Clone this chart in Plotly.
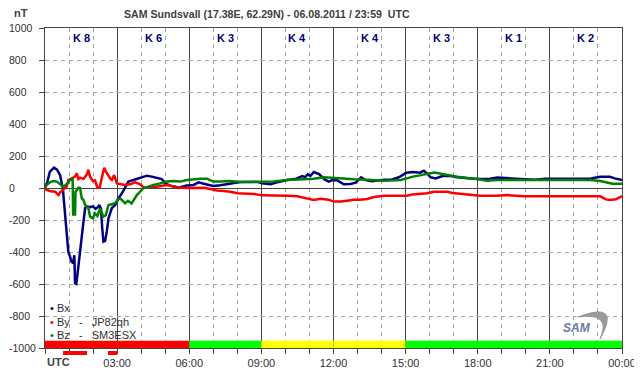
import plotly.graph_objects as go

# ---------------- data ----------------
t_bx = [0, 0.1, 0.2, 0.375, 0.5, 0.625, 0.74, 0.82, 0.9, 0.97,
        1.04, 1.1, 1.17, 1.22, 1.25, 1.3, 1.35, 1.39, 1.45, 1.53,
        1.6, 1.67, 1.75, 1.875, 2.0, 2.1, 2.2, 2.26, 2.33, 2.38,
        2.43, 2.5, 2.57, 2.64, 2.71, 2.78, 2.92, 3.05, 3.2, 3.33,
        3.47, 3.68, 3.96, 4.24, 4.44, 4.65, 4.86, 5.0, 5.2, 5.42,
        5.56, 5.7, 5.9, 6.18, 6.39, 6.6, 7.0, 7.29, 7.57, 7.85,
        8.13, 8.54, 8.82, 9.03, 9.38, 9.72, 10.07, 10.4, 10.7, 10.82,
        10.93, 11.04, 11.18, 11.4, 11.63, 11.8, 11.95, 12.15, 12.43, 12.7,
        12.92, 13.15, 13.33, 13.6, 13.85, 14.1, 14.4, 14.72, 15.03, 15.3,
        15.6, 15.76, 15.9, 16.04, 16.25, 16.53, 16.875, 17.15, 17.7, 18.1,
        18.5, 18.82, 19.4, 20.4, 20.8, 21.6, 22.7, 23.1, 23.5, 23.7,
        24.0]
bx = [0, 40, 100, 127, 115, 81, 0, -125, -250, -398,
      -429, -460, -470, -420, -596, -600, -540, -481, -410, -313,
      -210, -125, -115, -120, -115, -130, -120, -106, -130, -250,
      -335, -330, -273, -190, -160, -125, -106, -65, -33, 0,
      40, 50, 65, 77, 71, 65, 56, 29, 15, 8,
      0, 8, 15, 19, 35, 27, 12, 17, 23, 33,
      38, 38, 38, 29, 23, 38, 50, 56, 75, 68,
      85, 75, 100, 87, 54, 40, 50, 48, 23, 25,
      33, 67, 50, 42, 48, 52, 52, 67, 96, 100,
      96, 108, 90, 67, 60, 75, 75, 67, 60, 56,
      58, 65, 60, 52, 58, 60, 60, 70, 70, 60,
      50]

t_by = [0, 0.07, 0.2, 0.42, 0.56, 0.63, 0.76, 0.9, 0.97, 1.11,
        1.25, 1.32, 1.39, 1.46, 1.6, 1.74, 1.8, 1.875, 1.99, 2.08,
        2.18, 2.27, 2.36, 2.46, 2.53, 2.64, 2.71, 2.78, 2.875, 2.99,
        3.14, 3.33, 3.54, 3.75, 3.96, 4.1, 4.38, 4.65, 4.93, 5.14,
        5.35, 5.63, 6.03, 6.32, 6.6, 6.88, 7.15, 7.43, 7.71, 8.0,
        8.4, 8.68, 9.03, 9.5, 10.07, 10.5, 10.9, 11.18, 11.46, 11.8,
        12.01, 12.3, 12.57, 12.85, 13.1, 13.4, 13.68, 14.1, 14.65, 15.05,
        15.3, 15.6, 15.9, 16.18, 16.46, 16.74, 16.94, 17.3, 17.7, 18.1,
        18.8, 19.2, 19.9, 20.4, 21.0, 21.8, 22.7, 23.1, 23.33, 23.5,
        23.75, 24.0]
by = [0, -12, -19, -23, -44, -27, -10, 8, 50, 60,
      71, 92, 56, 65, 56, 85, 113, 71, 44, 48,
      2, 2, 71, 127, 104, 71, 60, 50, 81, 29,
      23, 19, 23, 35, 23, 2, 8, 8, 15, 19,
      8, 2, 0, 0, 2, -6, -15, -19, -23, -33,
      -35, -37, -46, -46, -48, -52, -65, -75, -67, -73,
      -85, -85, -79, -73, -73, -69, -56, -48, -48, -48,
      -40, -37, -33, -23, -21, -23, -31, -35, -42, -48,
      -48, -44, -52, -52, -48, -48, -48, -52, -71, -75,
      -71, -50]

t_bz = [0, 0.07, 0.2, 0.35, 0.49, 0.63, 0.76, 0.9, 1.04, 1.15,
        1.17, 1.25, 1.27, 1.39, 1.46, 1.53, 1.6, 1.67, 1.8, 1.875,
        1.99, 2.08, 2.18, 2.29, 2.36, 2.43, 2.53, 2.64, 2.78, 2.92,
        3.06, 3.125, 3.2, 3.33, 3.45, 3.6, 3.82, 3.96, 4.1, 4.31,
        4.51, 4.79, 5.07, 5.35, 5.63, 5.9, 6.18, 6.46, 6.74, 7.0,
        7.3, 7.71, 8.13, 8.54, 9.03, 9.5, 10.07, 10.6, 11.18, 11.6,
        12.0, 12.4, 12.85, 13.2, 13.6, 14.1, 14.5, 14.8, 15.05, 15.3,
        15.6, 15.76, 16.2, 16.4, 16.74, 17.15, 17.6, 18.0, 18.4, 18.8,
        19.4, 20.2, 20.8, 21.5, 22.2, 22.7, 23.1, 23.4, 23.6, 24.0]
bz = [0, 19, 35, 44, 40, 23, 8, 23, 50, 56,
      -165, -165, -23, 2, 0, -65, -75, -106, -123, -179,
      -190, -158, -175, -127, -158, -179, -170, -106, -102, -94,
      -69, -65, -75, -96, -80, -96, -44, -23, 0, 8,
      19, 29, 40, 44, 40, 50, 56, 58, 58, 40,
      40, 44, 38, 38, 38, 40, 50, 54, 58, 67,
      65, 60, 54, 54, 50, 46, 46, 50, 60, 71,
      79, 85, 96, 92, 81, 71, 60, 54, 46, 50,
      50, 50, 50, 50, 50, 50, 44, 31, 27, 27]

k_index = [8, 6, 3, 4, 4, 3, 1, 2]          # 3-hour K values
k_starts = [0, 3, 6, 9, 12, 15, 18, 21]
alert_intervals = [(0.75, 1.75), (2.62, 3.0)]  # red marks under the axis
x_tick_vals = [0, 3, 6, 9, 12, 15, 18, 21, 24]
x_tick_text = ["", "03:00", "06:00", "09:00", "12:00", "15:00", "18:00", "21:00", "00:00"]
y_tick_vals = [1000, 800, 600, 400, 200, 0, -200, -400, -600, -800, -1000]
legend_rows = [("Bx", "", "#000080"), ("By", "JP82qh", "#FF0000"), ("Bz", "SM3ESX", "#008000")]

for a, b in ((t_bx, bx), (t_by, by), (t_bz, bz)):
    assert len(a) == len(b), (len(a), len(b))

FONT = "Arial, Liberation Sans, sans-serif"
OFF = 8                      # default page (body) margin of the html page
PAGE_W, PAGE_H = 642, 376
PLOT_X0, PLOT_X1, PLOT_Y0, PLOT_Y1 = 45, 622, 28, 348   # plot area in page pixels
W, H = PAGE_W - OFF, PAGE_H - OFF
L, T = PLOT_X0 - OFF, PLOT_Y0 - OFF
R, B = W + OFF - PLOT_X1, H + OFF - PLOT_Y1
PW, PH = PLOT_X1 - PLOT_X0, PLOT_Y1 - PLOT_Y0


def px(xp):
    return (xp - PLOT_X0) / PW


def py(yp):
    return (PLOT_Y1 - yp) / PH


def k_color(k):
    if k >= 5:
        return "#FF0000"
    if k == 4:
        return "#FFFF00"
    return "#00FF00"


fig = go.Figure()
for t, v, c in ((t_bx, bx, "#000080"), (t_by, by, "#FF0000"), (t_bz, bz, "#008000")):
    fig.add_trace(go.Scatter(x=t, y=v, mode="lines", line=dict(color=c, width=2.5),
                             showlegend=False, hoverinfo="skip"))

shapes = []
for k, s in zip(k_index, k_starts):
    shapes.append(dict(type="rect", xref="x", yref="y", x0=s, x1=s + 3, y0=-1000, y1=-955,
                       fillcolor=k_color(k), line=dict(width=0), layer="above"))
for a, b in alert_intervals:
    shapes.append(dict(type="rect", xref="paper", yref="paper", x0=a / 24, x1=b / 24,
                       y0=py(355), y1=py(351), fillcolor="#FF0000", line=dict(width=0)))
# SAM logo swoosh
shapes.append(dict(type="path", xref="paper", yref="paper",
                   path=f"M {px(578)} {py(317)} Q {px(622)} {py(300)} {px(600)} {py(339)} "
                        f"Q {px(612)} {py(312)} {px(578)} {py(317)} Z",
                   fillcolor="#9a9a9a", line=dict(color="#9a9a9a", width=1)))

annotations = []


def note(x, y, text, size=11, color="#404040", xanchor="center", xref="paper", yref="paper"):
    annotations.append(dict(x=x, y=y, xref=xref, yref=yref, text=text, showarrow=False,
                            xanchor=xanchor, yanchor="middle",
                            font=dict(family=FONT, size=size, color=color)))


for k, s in zip(k_index, k_starts):
    note(s + 1.5, 935, f"<b>K {k}</b>", size=11, color="#000080", xref="x", yref="y")
# y tick labels are left-aligned in the reference
for v in y_tick_vals:
    note(px(7), v, str(v), size=10.5, color="#303030", xanchor="left", yref="y")
note(px(267), py(14), "<b>SAM Sundsvall (17.38E, 62.29N) - 06.08.2011 / 23:59  UTC</b>", size=10.6)
note(px(21), py(13), "<b>nT</b>", size=11)
note(px(45), py(362), "<b>UTC</b>", size=11, xanchor="left")
for i, (name, call, col) in enumerate(legend_rows):
    txt = f"<span style='color:{col}'>•</span> {name}"
    if call:
        txt += f"   -   {call}"
    note(px(48), py(308 + 13.5 * i), txt, size=11, color="#303030", xanchor="left")
note(px(577), py(328), "<i><b>SAM</b></i>", size=12, color="#6c7aa0")

fig.update_layout(
    width=W, height=H, margin=dict(l=L, r=R, t=T, b=B, autoexpand=False),
    paper_bgcolor="white", plot_bgcolor="white",
    shapes=shapes, annotations=annotations,
    font=dict(family=FONT, size=11, color="#303030"),
    xaxis=dict(range=[0, 24], tickmode="array", tickvals=x_tick_vals, ticktext=x_tick_text,
               automargin=False,
               showgrid=True, gridcolor="#444444", gridwidth=1,
               ticks="outside", ticklen=5, tickcolor="#444444",
               minor=dict(dtick=1, showgrid=True, gridcolor="#a0a0a0", griddash="4px,4px",
                          ticks="outside", ticklen=5, tickcolor="#444444"),
               showline=True, linecolor="#444444", linewidth=1, mirror=True,
               zeroline=False, fixedrange=True,
               tickfont=dict(family=FONT, size=11, color="#303030")),
    yaxis=dict(range=[-1000, 1000], tickmode="array", tickvals=y_tick_vals, showticklabels=False,
               showgrid=True, gridcolor="#a0a0a0",
               automargin=False,
               griddash="4px,4px", ticks="outside", ticklen=5, tickcolor="#444444",
               showline=True, linecolor="#444444", linewidth=1, mirror=True,
               zeroline=True, zerolinecolor="#444444", zerolinewidth=1, fixedrange=True),
)

fig.write_html("out.html")
